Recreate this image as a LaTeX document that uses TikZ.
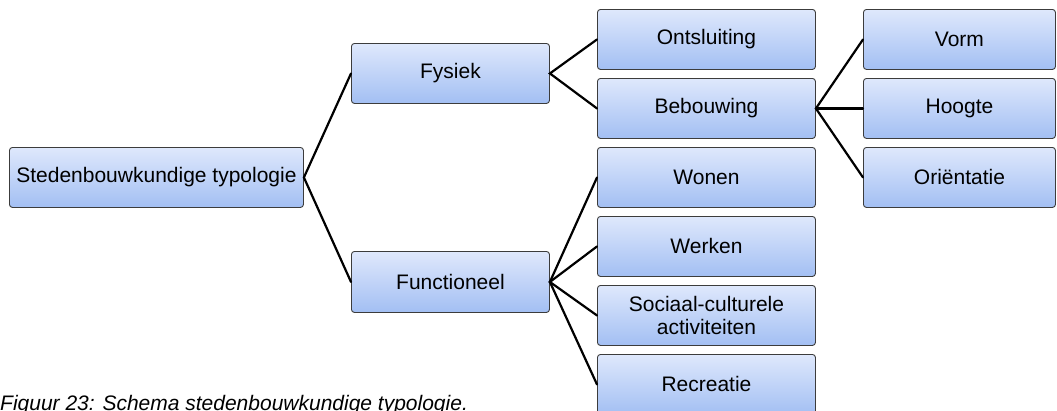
\documentclass[tikz,border=0pt]{standalone}
\usepackage{fontspec}
\setmainfont{Liberation Sans}
\definecolor{boxtop}{HTML}{DFE8FC}
\definecolor{boxbot}{HTML}{A3BFF3}
\definecolor{boxborder}{HTML}{3C3C3C}
\begin{document}
\begin{tikzpicture}[x=1pt,y=-1pt,
  box/.style={draw=boxborder, line width=0.9pt, rounded corners=3pt,
    top color=boxtop, bottom color=boxbot, minimum height=60pt,
    inner sep=0pt, font=\fontsize{21}{23.5}\selectfont, align=center,
    anchor=north west},
  link/.style={line width=2.2pt, line cap=round}]
\useasboundingbox (0,0) rectangle (1057,410);
\node[box, minimum width=294pt] (root) at (9,147) {Stedenbouwkundige typologie};
\node[box, minimum width=198pt] (fys) at (351,43) {Fysiek};
\node[box, minimum width=198pt, minimum height=61pt] (fun) at (351,251) {Functioneel};
\node[box, minimum width=218pt] (ont) at (597,9) {Ontsluiting};
\node[box, minimum width=218pt] (beb) at (597,78) {Bebouwing};
\node[box, minimum width=218pt] (won) at (597,147) {Wonen};
\node[box, minimum width=218pt] (wer) at (597,216) {Werken};
\node[box, minimum width=218pt] (soc) at (597,285) {Sociaal-culturele\\activiteiten};
\node[box, minimum width=218pt] (rec) at (597,354) {Recreatie};
\node[box, minimum width=192pt] (vorm) at (863,9) {Vorm};
\node[box, minimum width=192pt] (hoog) at (863,78) {Hoogte};
\node[box, minimum width=192pt] (ori) at (863,147) {Oriëntatie};
\draw[link] (fys.west) -- (root.east) -- (fun.west);
\draw[link] (ont.west) -- (fys.east) -- (beb.west);
\draw[link] (vorm.west) -- (beb.east) -- (ori.west);
\draw[link] (beb.east) -- (hoog.west);
\draw[link] (won.west) -- (fun.east) -- (rec.west);
\draw[link] (wer.west) -- (fun.east) -- (soc.west);
\node[anchor=base west, inner sep=0pt, font=\fontsize{21}{24}\selectfont\itshape] (cap) at (0,410) {Figuur 23: Schema stedenbouwkundige typologie.};
\end{tikzpicture}
\end{document}
